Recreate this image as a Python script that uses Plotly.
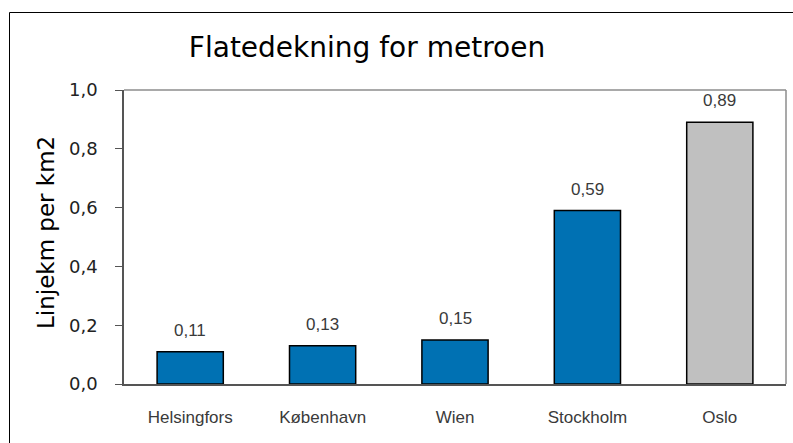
import plotly.graph_objects as go

# Metro coverage: line-km per km2 by city
cities = ["Helsingfors", "København", "Wien", "Stockholm", "Oslo"]
values = [0.11, 0.13, 0.15, 0.59, 0.89]
bar_colors = ["#0071B3", "#0071B3", "#0071B3", "#0071B3", "#C0C0C0"]
y_ticks = [0.0, 0.2, 0.4, 0.6, 0.8, 1.0]

W, H = 793, 443
ML, MR, MT, MB = 124, 7, 90, 59
pw, ph = W - ML - MR, H - MT - MB


def px_x(x):
    return (x - ML) / pw


def px_y(y):
    return (H - MB - y) / ph


fig = go.Figure(
    go.Bar(
        x=cities,
        y=values,
        marker=dict(color=bar_colors, line=dict(color="#000000", width=1.5)),
        hoverinfo="skip",
    )
)

# value labels above each bar
for c, v in zip(cities, values):
    fig.add_annotation(
        x=c, y=v, text=f"{v:.2f}".replace(".", ","),
        showarrow=False, yanchor="bottom", yshift=10,
        font=dict(family="Liberation Sans, Arial", size=17, color="#3A3A3A"),
    )

# y-axis title
fig.add_annotation(
    xref="paper", yref="paper", x=px_x(46), y=px_y(233),
    text="Linjekm per km2", textangle=-90, showarrow=False,
    xanchor="center", yanchor="middle",
    font=dict(family="DejaVu Sans", size=23, color="#000000"),
)

shapes = [
    # plot frame, top and right
    dict(type="line", xref="paper", yref="paper", x0=0, x1=1, y0=1, y1=1,
         line=dict(color="#8C8C8C", width=1.5)),
    dict(type="line", xref="paper", yref="paper", x0=1, x1=1, y0=0, y1=1,
         line=dict(color="#8C8C8C", width=1.5)),
    # outer chart border
    dict(type="line", xref="paper", yref="paper", x0=px_x(9.5), x1=px_x(9.5),
         y0=px_y(12.5), y1=px_y(443), line=dict(color="#000000", width=1)),
    dict(type="line", xref="paper", yref="paper", x0=px_x(9.5), x1=px_x(793),
         y0=px_y(12.5), y1=px_y(12.5), line=dict(color="#000000", width=1)),
]

fig.update_layout(
    width=W, height=H,
    margin=dict(l=ML, r=MR, t=MT, b=MB),
    paper_bgcolor="white", plot_bgcolor="white",
    separators=", ",
    bargap=0.5,
    showlegend=False,
    shapes=shapes,
    title=dict(
        text="Flatedekning for metroen",
        xref="container", x=367 / W, xanchor="center",
        yref="container", y=1 - 47 / H, yanchor="middle",
        font=dict(family="DejaVu Sans", size=28, color="#000000"),
    ),
    xaxis=dict(
        showline=True, linecolor="#555555", linewidth=1.5,
        ticks="", showgrid=False, ticklabelstandoff=17,
        tickfont=dict(family="Liberation Sans, Arial", size=17, color="#3A3A3A"),
    ),
    yaxis=dict(
        range=[0, 1.0], tickvals=y_ticks, tickformat=".1f",
        showline=True, linecolor="#555555", linewidth=1.5,
        ticks="outside", ticklen=7, tickcolor="#555555", tickwidth=1,
        showgrid=False, zeroline=False, ticklabelstandoff=14,
        tickfont=dict(family="DejaVu Sans", size=18, color="#222222"),
    ),
)

fig.write_html("out.html")
